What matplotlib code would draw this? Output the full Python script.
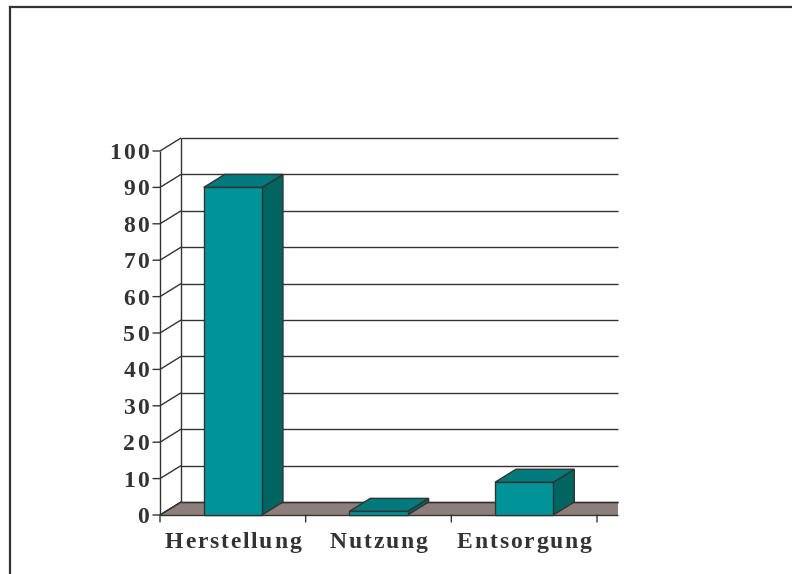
import numpy as np
import matplotlib
matplotlib.use("Agg")
import matplotlib.pyplot as plt
from matplotlib.patches import Polygon, Rectangle
from matplotlib.lines import Line2D

# Data
categories = ["Herstellung", "Nutzung", "Entsorgung"]
values = [90, 1, 9]
y_ticks = list(range(0, 101, 10))

# Colours
front_col = "#009398"
top_col = "#007a7c"
side_col = "#006461"
floor_col = "#8c7e79"
line_col = "#333333"

plt.rcParams["font.family"] = ["Liberation Serif", "DejaVu Serif"]
plt.rcParams["font.weight"] = "bold"
FS = 17

fig = plt.figure(figsize=(7.92, 5.74), dpi=100)
ax = fig.add_axes([160 / 792, 59 / 574, 437 / 792, 364 / 574])
ax.set_xlim(0, len(categories))
ax.set_ylim(0, 100)
ax.axis("off")
renderer = fig.canvas.get_renderer()


def text_width(s):
    t = fig.text(0, 0, s, fontsize=FS, fontweight="bold")
    w = t.get_window_extent(renderer).width
    t.remove()
    return w


def spaced_text(s, xy, dx_px, dy_px, spacing, ha="center"):
    """Draw s char by char with extra tracking, anchored at data point xy."""
    total = text_width(s) + spacing * (len(s) - 1)
    if ha == "center":
        start = dx_px - total / 2
    elif ha == "right":
        start = dx_px - total
    else:
        start = dx_px
    for k, ch in enumerate(s):
        off = text_width(s[:k]) + spacing * k if k else 0.0
        ax.annotate(ch, xy=xy, xytext=(start + off, dy_px),
                    textcoords="offset pixels", ha="left", va="baseline",
                    fontsize=FS, fontweight="bold", color=line_col,
                    annotation_clip=False)


# depth offset of the pseudo-3D box, in data units
n = len(categories)
px_x = 437 / n
px_y = 364 / 100
dx = 21.0 / px_x
dy = 13.0 / px_y
bar_w = 0.4

kw = dict(color=line_col, lw=1.0, clip_on=False, solid_capstyle="butt")

# back wall gridlines and left wall diagonals
for v in y_ticks:
    ax.add_line(Line2D([dx, n + dx], [v + dy, v + dy], **kw))
    ax.add_line(Line2D([0, dx], [v, v + dy], **kw))
ax.add_line(Line2D([dx, dx], [dy, 100 + dy], **kw))

# floor, cut off at the right edge of the plot area
ax.add_patch(Polygon([(0, 0), (n + dx, 0), (n + dx, dy), (dx, dy)], closed=True,
                     facecolor=floor_col, edgecolor="none", clip_on=False))
ax.add_line(Line2D([dx, n + dx], [dy, dy], **kw))
ax.add_line(Line2D([0, dx], [0, dy], **kw))
ax.add_line(Line2D([0, n + dx], [0, 0], **kw))

# front value axis with ticks and labels
ax.add_line(Line2D([0, 0], [0, 100], **kw))
for v in y_ticks:
    ax.annotate("", xy=(0, v), xytext=(-7, 0), textcoords="offset pixels",
                arrowprops=dict(arrowstyle="-", color=line_col, lw=1.0,
                                shrinkA=0, shrinkB=0))
    spaced_text(str(v), (0, v), -11, -8, 2.2, ha="right")

# category axis ticks and labels
for i in range(n + 1):
    ax.annotate("", xy=(i, 0), xytext=(0, -7), textcoords="offset pixels",
                arrowprops=dict(arrowstyle="-", color=line_col, lw=1.0,
                                shrinkA=0, shrinkB=0))
for i, name in enumerate(categories):
    spaced_text(name, (i + 0.5, 0), 0, -33, 1.8)

# bars: front face, top face and right side face
for i, v in enumerate(values):
    x0 = i + 0.5 - bar_w / 2
    x1 = i + 0.5 + bar_w / 2
    ax.add_patch(Polygon([(x1, 0), (x1 + dx, dy), (x1 + dx, v + dy), (x1, v)],
                         closed=True, facecolor=side_col, edgecolor=line_col,
                         lw=1.0, clip_on=False, zorder=3))
    ax.add_patch(Polygon([(x0, v), (x1, v), (x1 + dx, v + dy), (x0 + dx, v + dy)],
                         closed=True, facecolor=top_col, edgecolor=line_col,
                         lw=1.0, clip_on=False, zorder=3))
    ax.add_patch(Rectangle((x0, 0), bar_w, v, facecolor=front_col,
                           edgecolor=line_col, lw=1.0, clip_on=False, zorder=4))

# outer frame
fig.add_artist(Line2D([9.5 / 792, 9.5 / 792], [0, 1 - 7 / 574], color=line_col, lw=1.6))
fig.add_artist(Line2D([9.5 / 792, 1], [1 - 7 / 574, 1 - 7 / 574], color=line_col, lw=1.6))

fig.savefig("out.png", dpi=100)
